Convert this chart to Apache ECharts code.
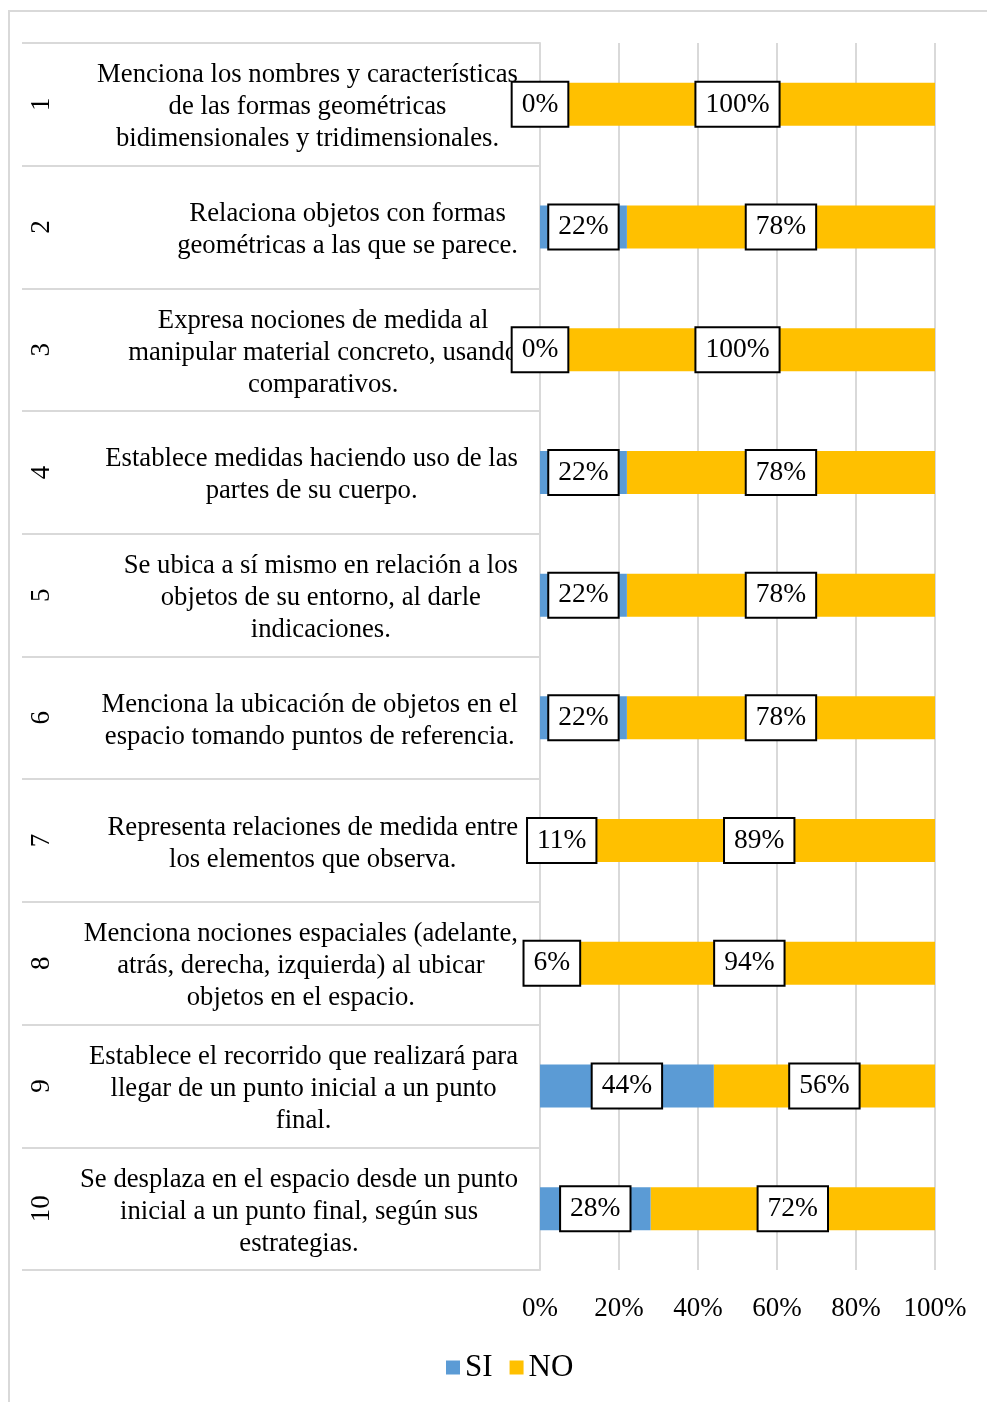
<!DOCTYPE html>
<html>
<head>
<meta charset="utf-8">
<title>SI / NO por indicador</title>
<script src="https://cdn.jsdelivr.net/npm/echarts@6/dist/echarts.min.js"></script>
<style>
  html, body { margin: 0; padding: 0; background: #fff; }
  #chart { width: 987px; height: 1402px; }
</style>
</head>
<body>
<div id="chart"></div>
<script>
// numeros de fila (columna girada)
const rowNumbers = ["1", "2", "3", "4", "5", "6", "7", "8", "9", "10"];

// descripciones, ya cortadas en lineas como en el original
const descriptions = [
  "Menciona los nombres y características\nde las formas geométricas\nbidimensionales y tridimensionales.",
  "Relaciona objetos con formas\ngeométricas a las que se parece.",
  "Expresa nociones de medida al\nmanipular material concreto, usando\ncomparativos.",
  "Establece medidas haciendo uso de las\npartes de su cuerpo.",
  "Se ubica a sí mismo en relación a los\nobjetos de su entorno, al darle\nindicaciones.",
  "Menciona la ubicación de objetos en el\nespacio tomando puntos de referencia.",
  "Representa relaciones de medida entre\nlos elementos que observa.",
  "Menciona nociones espaciales (adelante,\natrás, derecha, izquierda) al ubicar\nobjetos en el espacio.",
  "Establece el recorrido que realizará para\nllegar de un punto inicial a un punto\nfinal.",
  "Se desplaza en el espacio desde un punto\ninicial a un punto final, según sus\nestrategias."
];

const siValues = [0, 22, 0, 22, 22, 22, 11, 6, 44, 28];
const noValues = [100, 78, 100, 78, 78, 78, 89, 94, 56, 72];

const FONT = "'Liberation Serif', 'Times New Roman', serif";
const GRID_COLOR = "#d9d9d9";

const chart = echarts.init(document.getElementById("chart"));

const barLabel = {
  show: true,
  position: "inside",
  formatter: "{c}%",
  color: "#000",
  fontFamily: FONT,
  fontSize: 27.5,
  lineHeight: 27,
  backgroundColor: "#fff",
  borderColor: "#000",
  borderWidth: 2,
  padding: [11, 9, 5, 9]
};

const option = {
  backgroundColor: "#fff",
  animation: false,
  textStyle: { fontFamily: FONT, color: "#000" },
  graphic: [
    {
      // marco gris exterior
      type: "rect",
      silent: true,
      shape: { x: 9, y: 11, width: 1100, height: 1500 },
      style: { fill: null, stroke: GRID_COLOR, lineWidth: 2 }
    }
  ],
  grid: { left: 540, right: 52, top: 43, bottom: 132 },
  legend: {
    data: ["SI", "NO"],
    left: 441,
    top: 1347,
    icon: "rect",
    itemWidth: 14,
    itemHeight: 14,
    itemGap: 17,
    textStyle: { fontFamily: FONT, fontSize: 31, color: "#000" }
  },
  xAxis: {
    type: "value",
    min: 0,
    max: 100,
    interval: 20,
    axisLine: { show: false },
    axisTick: { show: false },
    splitLine: { lineStyle: { color: GRID_COLOR, width: 2 } },
    axisLabel: {
      formatter: "{value}%",
      margin: 25,
      fontFamily: FONT,
      fontSize: 27,
      color: "#000"
    }
  },
  yAxis: [
    {
      type: "category",
      data: descriptions,
      inverse: true,
      axisLine: { show: true, lineStyle: { color: GRID_COLOR, width: 2 } },
      axisTick: { show: true, length: 518, lineStyle: { color: GRID_COLOR, width: 2 } },
      axisLabel: {
        margin: 22,
        align: "right",
        padding: [6, 0, 0, 0],
        formatter: (v) => v.split("\n").map((l) => "{c|" + l + "}").join("\n"),
        rich: {
          c: { align: "center", fontFamily: FONT, fontSize: 26.7, lineHeight: 32, color: "#000" }
        }
      }
    },
    {
      type: "category",
      data: rowNumbers,
      inverse: true,
      position: "left",
      axisLine: { show: false },
      axisTick: { show: false },
      axisLabel: {
        rotate: 90,
        margin: 498,
        align: "center",
        verticalAlign: "middle",
        fontFamily: FONT,
        fontSize: 27,
        color: "#000"
      }
    }
  ],
  series: [
    {
      name: "SI",
      type: "bar",
      stack: "total",
      barWidth: 43,
      z: 3,
      itemStyle: { color: "#5b9bd5" },
      label: barLabel,
      data: siValues
    },
    {
      name: "NO",
      type: "bar",
      stack: "total",
      barWidth: 43,
      itemStyle: { color: "#ffc000" },
      label: barLabel,
      data: noValues
    }
  ]
};

chart.setOption(option);
</script>
</body>
</html>
